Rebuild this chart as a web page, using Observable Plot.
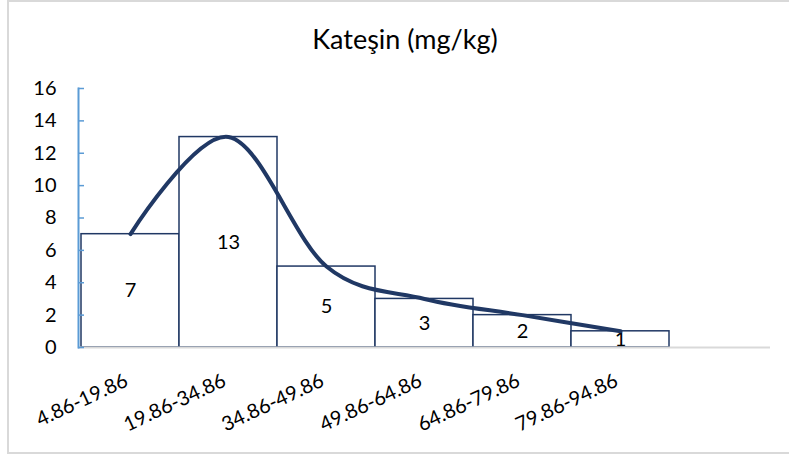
<!DOCTYPE html>
<html>
<head>
<meta charset="utf-8">
<script src="https://cdn.jsdelivr.net/npm/d3@7"></script>
<script src="https://cdn.jsdelivr.net/npm/@observablehq/plot@0.6"></script>
<style>
  html, body { margin: 0; padding: 0; background: #fff; }
  #wrap { position: relative; width: 789px; height: 459px; overflow: hidden; font-family: Lato, "Open Sans", sans-serif; }
  #border { position: absolute; left: 7px; top: 0px; width: 820px; height: 454px; box-sizing: border-box; border: 2px solid #d9d9d9; z-index: 5; pointer-events: none; }
  #title { position: absolute; left: 0; width: 810px; top: 22px; text-align: center; font-size: 27px; color: #000; }
  #chart { position: absolute; left: 0; top: 60px; }
</style>
</head>
<body>
<div id="wrap">
  <div id="chart"></div>
  <div id="title">Kateşin (mg/kg)</div>
  <div id="border"></div>
</div>
<script>
const categories = ["4.86-19.86", "19.86-34.86", "34.86-49.86", "49.86-64.86", "64.86-79.86", "79.86-94.86"];
const counts = [7, 13, 5, 3, 2, 1];
const emptyCategory = " ";
const yTicks = [0, 2, 4, 6, 8, 10, 12, 14, 16];

const data = categories.map((c, i) => ({cat: c, v: counts[i]}));
const domain = [...categories, emptyCategory];
const navy = "#203864";

const plot = Plot.plot({
  width: 789,
  height: 399,
  marginLeft: 78,
  marginRight: 19,
  marginTop: 28,
  marginBottom: 112,
  style: {fontFamily: "Lato, 'Open Sans', sans-serif", background: "transparent", color: "#000"},
  x: {type: "band", domain, padding: 0, label: null},
  y: {domain: [0, 16], label: null},
  marks: [
    Plot.barY(data, {x: "cat", y: "v", fill: "white", stroke: navy, strokeWidth: 1.5}),
    Plot.ruleY([0], {stroke: "#d9d9d9", strokeWidth: 2}),
    Plot.frame({anchor: "left", stroke: "#5B9BD5", strokeWidth: 2}),
    Plot.tickY(yTicks, {y: d => d, stroke: "#5B9BD5", strokeWidth: 1.5, insetRight: 686}),
    Plot.axisY({ticks: yTicks, tickSize: 0, tickPadding: 22, fontSize: 20, label: null}),
    Plot.axisX({tickSize: 0, tickRotate: -25, tickPadding: 32, dx: -4, fontSize: 20, label: null}),
    Plot.text(data, {x: "cat", y: d => d.v / 2, text: d => String(d.v), fontSize: 20, fill: "#000"}),
    Plot.line(data, {x: "cat", y: "v", curve: "cardinal", stroke: navy, strokeWidth: 4})
  ]
});
document.getElementById("chart").appendChild(plot);
</script>
</body>
</html>
